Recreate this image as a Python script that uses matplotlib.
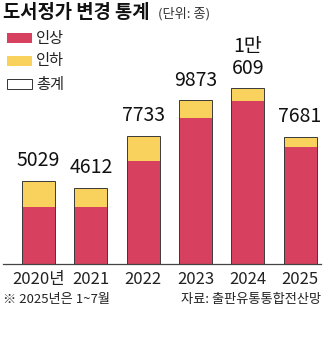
import numpy as np
import matplotlib.pyplot as plt
from matplotlib.patches import Rectangle

years = ['2020년', '2021', '2022', '2023', '2024', '2025']
total = [5029, 4612, 7733, 9873, 10609, 7681]
raised = [3470, 3460, 6230, 8800, 9840, 7080]
lowered = [t - r for t, r in zip(total, raised)]
total_labels = ['5029', '4612', '7733', '9873', '1만\n609', '7681']

RED = '#d8405f'
YELLOW = '#f8d25c'
narrow = ['Liberation Sans Narrow', 'Noto Sans CJK KR', 'DejaVu Sans']
kr = ['Noto Sans CJK KR', 'DejaVu Sans']

fig = plt.figure(figsize=(3.26, 3.51), dpi=100)
ax = fig.add_axes([3 / 326, 1 - 264.3 / 351, 318 / 326, 264.3 / 351])

x = np.arange(len(years))
w = 0.633
ax.bar(x, raised, width=w, color=RED, edgecolor='none')
ax.bar(x, lowered, width=w, bottom=raised, color=YELLOW, edgecolor='none')
ax.bar(x, total, width=w, fill=False, edgecolor='#3a3a3a', linewidth=0.7)

for xi, t, lab in zip(x, total, total_labels):
    ax.text(xi, t + 560, lab, ha='center', va='bottom', fontsize=14,
            family=narrow, color='#111111', linespacing=1.05)

ax.set_xlim(-0.68, 5.4)
ax.set_ylim(0, 15903)
for s in ['top', 'right', 'left']:
    ax.spines[s].set_visible(False)
ax.spines['bottom'].set_color('#444444')
ax.spines['bottom'].set_linewidth(0.9)
ax.set_yticks([])
ax.set_xticks(x)
ax.set_xticklabels(years, family=narrow, fontsize=12, color='#222222')
ax.tick_params(axis='x', length=0, pad=5)

# title and unit
fig.text(3 / 326, 1 - 13 / 351, '도서정가 변경 통계', family=kr, fontweight='bold',
         fontsize=13.5, va='center', ha='left', color='#111111')
fig.text(158 / 326, 1 - 14 / 351, '(단위: 종)', family=narrow, fontsize=9.5,
         va='center', ha='left', color='#333333')

# legend
for i, (fc, name) in enumerate([(RED, '인상'), (YELLOW, '인하'), ('white', '총계')]):
    yc = 38 + i * 23
    fig.add_artist(Rectangle((7 / 326, 1 - (yc + 5) / 351), 25 / 326, 10 / 351,
                             transform=fig.transFigure, facecolor=fc,
                             edgecolor='#333333' if fc == 'white' else 'none',
                             linewidth=0.7))
    fig.text(36 / 326, 1 - yc / 351, name, family=kr, fontsize=11,
             va='center', ha='left', color='#222222')

# footnotes
fig.text(3 / 326, 1 - 300 / 351, '※ 2025년은 1~7월', family=narrow, fontsize=9.5,
         va='center', ha='left', color='#222222')
fig.text(321 / 326, 1 - 300 / 351, '자료: 출판유통통합전산망', family=narrow, fontsize=9.5,
         va='center', ha='right', color='#222222')

fig.savefig('out.png', dpi=100)
